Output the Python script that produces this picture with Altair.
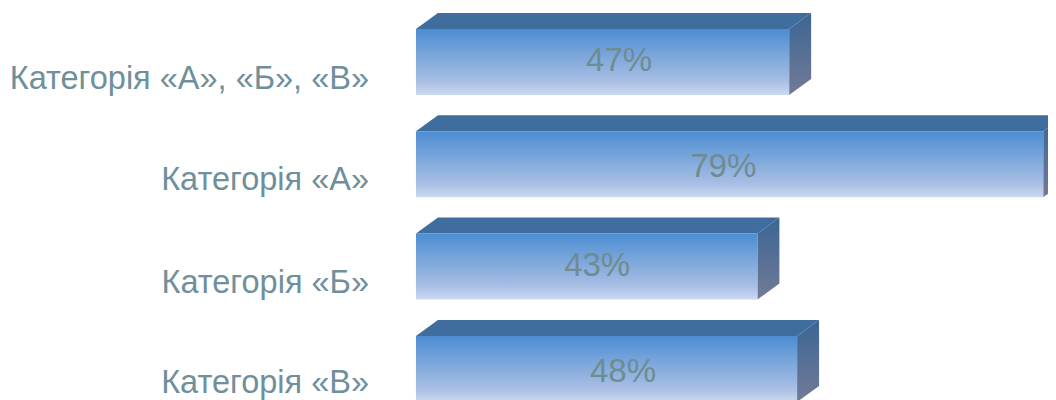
import altair as alt
import pandas as pd

categories = ["Категорія «А», «Б», «В»", "Категорія «А»", "Категорія «Б»", "Категорія «В»"]
values = [47, 79, 43, 48]
value_labels = ["47%", "79%", "43%", "48%"]
# the data labels sit off-centre in the reference (value units, row units)
label_dx = [2.08, -0.8, 1.32, 2.08]
label_dy = [0.01, 0.045, 0.01, 0.05]
cat_y = [0.485, 0.48, 0.48, 0.462]

DX = 22 / 7.94      # box depth in value units
DY = 16 / 102.33    # box depth in row units
H = 66 / 102.33     # front-face height in row units

xs = alt.Scale(domain=[-51.38, 79.6], nice=False, zero=False)
ys = alt.Scale(domain=[-0.205, 3.626], reverse=True, nice=False, zero=False)

front, top, side, text = [], [], [], []
for i, (c, v, l) in enumerate(zip(categories, values, value_labels)):
    front.append({"r": i, "v0": 0, "v": v, "y": i, "y2": i + H})
    text.append({"c": c, "l": l, "v": v / 2 + label_dx[i],
                 "ym": i + 0.305 + label_dy[i], "yc": i + cat_y[i]})
    for x, y, y2 in [(0, i, i), (DX, i - DY, i), (v, i - DY, i), (v + DX, i - DY, i - DY)]:
        top.append({"r": i, "x": x, "y": y, "y2": y2})
    for x, y, y2 in [(v, i, i + H), (v + DX, i - DY, i + H - DY)]:
        side.append({"r": i, "x": x, "y": y, "y2": y2})

X = lambda f: alt.X(f, type="quantitative", scale=xs, axis=None)
Y = lambda f: alt.Y(f, type="quantitative", scale=ys, axis=None)

grad = alt.Gradient(gradient="linear", x1=0, y1=0, x2=0, y2=1,
                    stops=[alt.GradientStop(offset=0, color="#4c8dd2"),
                           alt.GradientStop(offset=0.8, color="#a9bfe4"),
                           alt.GradientStop(offset=1, color="#ccd9f0")])
side_grad = alt.Gradient(gradient="linear", x1=0, y1=0, x2=0, y2=1,
                         stops=[alt.GradientStop(offset=0, color="#3b6593"),
                                alt.GradientStop(offset=1, color="#727b96")])

front_l = alt.Chart(pd.DataFrame(front)).mark_rect(fill=grad, clip=True).encode(
    x=X("v0"), x2="v", y=Y("y"), y2="y2")
top_l = alt.Chart(pd.DataFrame(top)).mark_area(color="#3f6e9e", clip=True).encode(
    x=X("x"), y=Y("y"), y2="y2", detail="r:N")
side_l = alt.Chart(pd.DataFrame(side)).mark_area(fill=side_grad, clip=True).encode(
    x=X("x"), y=Y("y"), y2="y2", detail="r:N")
vals = alt.Chart(pd.DataFrame(text)).mark_text(
    font="Liberation Sans", fontSize=33, color="#6f8c90", align="center", baseline="middle"
).encode(x=X("v"), y=Y("ym"), text="l:N")
cats = alt.Chart(pd.DataFrame(text)).mark_text(
    font="Liberation Sans", fontSize=32.5, color="#6f909a", align="right", baseline="middle"
).encode(x=alt.value(361), y=Y("yc"), text="c:N")

chart = (top_l + side_l + front_l + vals + cats).properties(
    width=1040, height=392, padding=0, autosize="none",
).configure_view(stroke=None)

chart.save("out.html", embed_options={"renderer": "svg", "actions": False})
